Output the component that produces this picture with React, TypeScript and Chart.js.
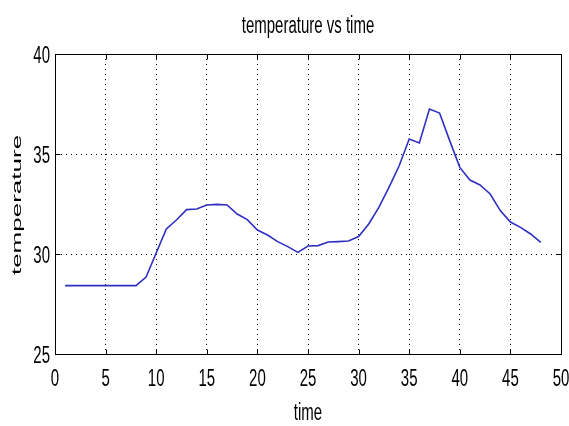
import React, { useEffect, useRef } from "react";
import { Chart, registerables } from "chart.js";

Chart.register(...registerables);

const TITLE = "temperature vs time";
const X_LABEL = "time";
const Y_LABEL = "temperature";

const TIME = [
  1, 2, 3, 4, 5, 6, 7, 8, 9, 10, 11, 12, 13, 14, 15, 16, 17, 18, 19, 20, 21, 22, 23, 24,
  25, 26, 27, 28, 29, 30, 31, 32, 33, 34, 35, 36, 37, 38, 39, 40, 41, 42, 43, 44, 45, 46, 47, 48,
];
const TEMPERATURE = [
  28.42, 28.42, 28.42, 28.42, 28.42, 28.42, 28.42, 28.42, 28.85, 30.05, 31.25, 31.7,
  32.22, 32.25, 32.45, 32.48, 32.45, 32.0, 31.72, 31.2, 30.95, 30.62, 30.37, 30.08,
  30.4, 30.42, 30.6, 30.62, 30.65, 30.87, 31.5, 32.33, 33.33, 34.4, 35.75, 35.55,
  37.25, 37.05, 35.67, 34.33, 33.7, 33.45, 33.0, 32.17, 31.6, 31.33, 31.0, 30.58,
];
const X_MIN = 0;
const X_MAX = 50;
const X_STEP = 5;
const Y_MIN = 25;
const Y_MAX = 40;
const Y_STEP = 5;

const FONT = '"Liberation Sans", Arial, sans-serif';

function stretchedText(
  ctx: CanvasRenderingContext2D,
  text: string,
  x: number,
  y: number,
  sx: number,
  sy: number,
  align: CanvasTextAlign,
  baseline: CanvasTextBaseline,
  rotate = 0
) {
  ctx.save();
  ctx.translate(x, y);
  if (rotate) ctx.rotate(rotate);
  ctx.scale(sx, sy);
  ctx.textAlign = align;
  ctx.textBaseline = baseline;
  ctx.fillText(text, 0, 0);
  ctx.restore();
}

const matlabPlugin = {
  id: "matlabDecor",
  afterDraw(chart: any) {
    const ctx: CanvasRenderingContext2D = chart.ctx;
    const { left, right, top, bottom } = chart.chartArea;
    const xs = chart.scales.x;
    const ys = chart.scales.y;
    ctx.save();
    // box
    ctx.strokeStyle = "#000";
    ctx.lineWidth = 1;
    ctx.setLineDash([]);
    const l = Math.round(left) + 0.5;
    const r = Math.round(right) + 0.5;
    const t = Math.round(top) + 0.5;
    const b = Math.round(bottom) + 0.5;
    ctx.strokeRect(l, t, r - l, b - t);
    // inward ticks
    const TL = 5;
    ctx.beginPath();
    xs.ticks.forEach((tk: any) => {
      const px = Math.round(xs.getPixelForValue(tk.value)) + 0.5;
      ctx.moveTo(px, b);
      ctx.lineTo(px, b - TL);
      ctx.moveTo(px, t);
      ctx.lineTo(px, t + TL);
    });
    ys.ticks.forEach((tk: any) => {
      const py = Math.round(ys.getPixelForValue(tk.value)) + 0.5;
      ctx.moveTo(l, py);
      ctx.lineTo(l + TL, py);
      ctx.moveTo(r, py);
      ctx.lineTo(r - TL, py);
    });
    ctx.stroke();

    // texts
    ctx.fillStyle = "#000";
    ctx.font = `15px ${FONT}`;
    const SY = 1.65;
    xs.ticks.forEach((tk: any) => {
      const px = xs.getPixelForValue(tk.value);
      stretchedText(ctx, String(tk.value), px, 386, 1, SY, "center", "alphabetic");
    });
    ys.ticks.forEach((tk: any) => {
      const py = ys.getPixelForValue(tk.value);
      stretchedText(ctx, String(tk.value), 50, py + 9, 1, SY, "right", "alphabetic");
    });
    const cx = (left + right) / 2;
    stretchedText(ctx, TITLE, cx, 33, 1, SY, "center", "alphabetic");
    stretchedText(ctx, X_LABEL, cx, 420, 1, SY, "center", "alphabetic");
    ctx.font = `13px ${FONT}`;
    stretchedText(ctx, Y_LABEL, 17.5, 205, 2.0, 1, "center", "middle", -Math.PI / 2);
    ctx.restore();
  },
};

export default function App() {
  const ref = useRef<HTMLCanvasElement | null>(null);
  useEffect(() => {
    if (!ref.current) return;
    const chart = new Chart(ref.current, {
      type: "line",
      data: {
        datasets: [
          {
            label: "temperature",
            data: TIME.map((t, i) => ({ x: t, y: TEMPERATURE[i] })),
            borderColor: "#2f2fc2",
            borderWidth: 1.6,
            pointRadius: 0,
            tension: 0,
            fill: false,
          },
        ],
      },
      options: {
        animation: false,
        responsive: false,
        devicePixelRatio: 1,
        layout: { padding: { left: 0, right: 8, top: 54, bottom: 0 } },
        plugins: {
          legend: { display: false },
          title: { display: false },
          tooltip: { enabled: false },
        },
        scales: {
          x: {
            type: "linear",
            min: X_MIN,
            max: X_MAX,
            ticks: { stepSize: X_STEP, display: false },
            grid: { color: "#000", lineWidth: 1, drawTicks: false, tickLength: 0 },
            border: { display: true, color: "#000", width: 1, dash: [1, 4] },
            afterFit: (s: any) => {
              s.height = 72;
            },
          },
          y: {
            type: "linear",
            min: Y_MIN,
            max: Y_MAX,
            ticks: { stepSize: Y_STEP, display: false },
            grid: { color: "#000", lineWidth: 1, drawTicks: false, tickLength: 0 },
            border: { display: true, color: "#000", width: 1, dash: [1, 4] },
            afterFit: (s: any) => {
              s.width = 55;
            },
          },
        },
      },
      plugins: [matlabPlugin],
    });
    return () => chart.destroy();
  }, []);
  return (
    <div style={{ position: "absolute", left: 0, top: 0, width: 569, height: 426, background: "#fff" }}>
      <canvas ref={ref} width={569} height={426} style={{ display: "block" }} />
    </div>
  );
}
